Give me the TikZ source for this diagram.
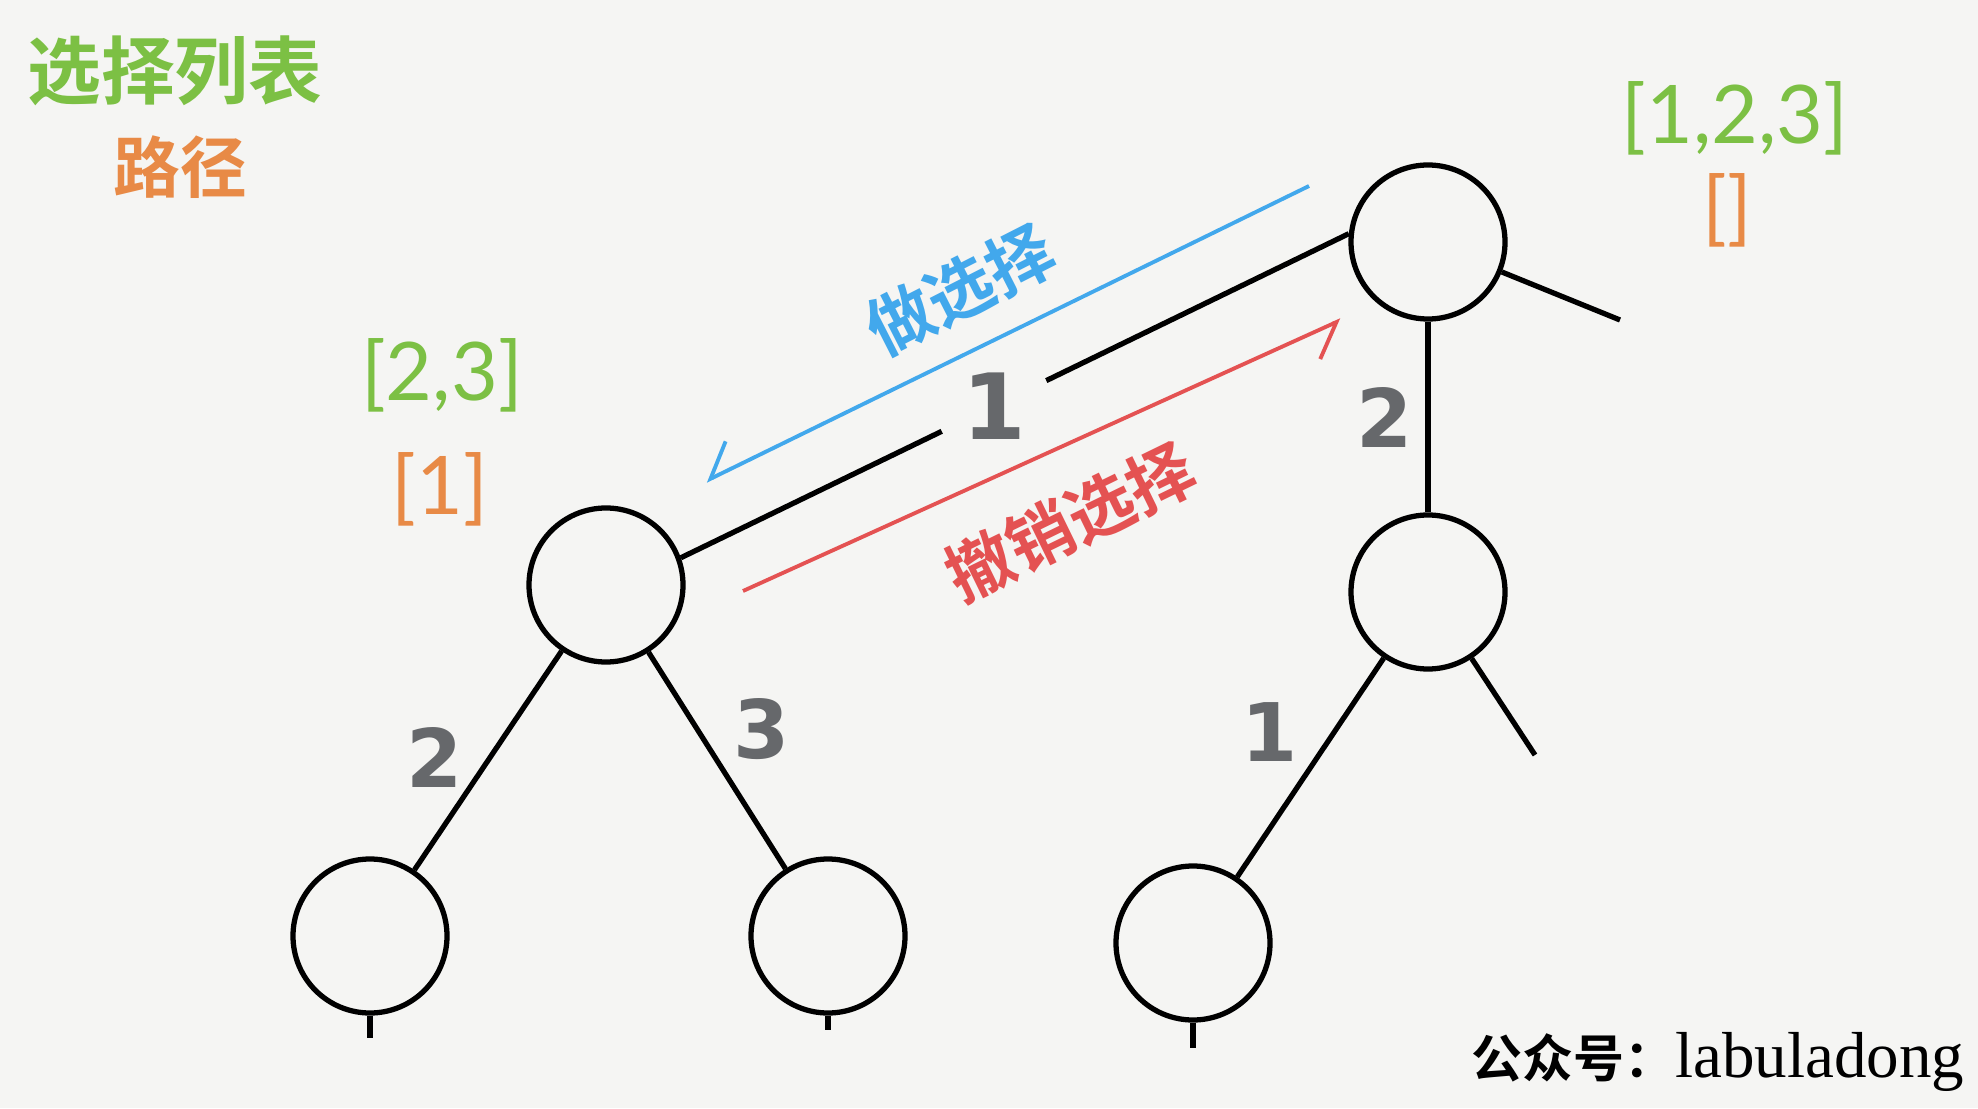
\documentclass[tikz,border=0pt]{standalone}
\usepackage{fontspec}
\usepackage{tikz}
\usetikzlibrary{arrows.meta}

\newfontfamily\cjk{Noto Sans CJK SC}[BoldFont={* Bold}]
\newfontfamily\thinfont{Lato}
\newfontfamily\numfont{DejaVu Sans}
\newfontfamily\enfont{Liberation Serif}

\definecolor{paper}{RGB}{245,245,243}
\definecolor{listgreen}{RGB}{124,192,68}
\definecolor{pathorange}{RGB}{232,138,70}
\definecolor{doblue}{RGB}{66,168,236}
\definecolor{undored}{RGB}{228,82,82}
\definecolor{numgray}{RGB}{102,104,107}

\begin{document}
\begin{tikzpicture}[
    vtx/.style={circle, draw, line width=1.5pt, minimum size=1.54cm, inner sep=0pt},
    edge/.style={line width=1.5pt},
    num/.style={text=numgray, inner sep=0pt, font=\fontsize{23}{23}\selectfont\numfont\bfseries},
    choice/.style={text=listgreen, font=\fontsize{23}{23}\selectfont\thinfont},
    track/.style={text=pathorange, font=\fontsize{23}{23}\selectfont\thinfont},
    move/.style={line width=1.1pt, -{Straight Barb[right, length=0.3cm, width=0.54cm]}}
  ]
  \fill[paper] (0,0) rectangle (19.78,11.08);
  \useasboundingbox (0,0) rectangle (19.78,11.08);

  % legend
  \node[text=listgreen, font=\fontsize{21}{21}\selectfont\cjk\bfseries] (legA) at (1.75, 10.37) {选择列表};
  \node[text=pathorange, font=\fontsize{19}{19}\selectfont\cjk\bfseries] (legB) at (1.80, 9.41) {路径};

  % tree
  \node[vtx] (root) at (14.28, 8.66) {};
  \node[vtx] (midL) at (6.06, 5.23) {};
  \node[vtx] (midR) at (14.28, 5.16) {};
  \node[vtx] (botL) at (3.70, 1.72) {};
  \node[vtx] (botM) at (8.28, 1.72) {};
  \node[vtx] (botR) at (11.93, 1.65) {};

  \coordinate (rootEnd) at (16.20, 7.88);
  \coordinate (midREnd) at (15.35, 3.53);
  \coordinate (botLEnd) at (3.70, 0.70);
  \coordinate (botMEnd) at (8.28, 0.78);
  \coordinate (botREnd) at (11.93, 0.60);

  \node[num, font=\fontsize{26}{26}\selectfont\numfont\bfseries] (pick1) at (9.94, 7.02) {1};
  \draw[edge, shorten >=0.22cm] (midL.20) -- (pick1);
  \draw[edge, shorten <=0.22cm] (pick1) -- (root.174);
  \draw[edge] (root) -- (midR);
  \draw[edge] (root) -- (rootEnd);
  \draw[edge] (midL) -- (botL);
  \draw[edge] (midL) -- (botM);
  \draw[edge] (midR) -- (botR);
  \draw[edge] (midR) -- (midREnd);
  \draw[edge] (botL) -- (botLEnd);
  \draw[edge] (botM) -- (botMEnd);
  \draw[edge] (botR) -- (botREnd);

  \node[num] (pick2a) at (4.35, 3.51) {2};
  \node[num] (pick3) at (7.62, 3.79) {3};
  \node[num] (pick2b) at (13.85, 6.90) {2};
  \node[num] (pick1b) at (12.70, 3.76) {1};

  % lists
  \node[choice] (c0) at (17.35, 9.90) {[1,2,3]};
  \node[track] (t0) at (17.27, 8.98) {[]};
  \node[choice] (c1) at (4.42, 7.33) {[2,3]};
  \node[track] (t1) at (4.40, 6.19) {[1]};

  % do / undo
  \coordinate (doS) at (13.09, 9.22);
  \coordinate (doE) at (7.06, 6.27);
  \coordinate (undoS) at (7.43, 5.17);
  \coordinate (undoE) at (13.41, 7.88);
  \draw[move, doblue] (doS) -- (doE);
  \draw[move, undored] (undoS) -- (undoE);
  \node[text=doblue, rotate=27, font=\fontsize{19}{19}\selectfont\cjk\bfseries] (doTxt) at (9.60, 8.18) {做选择};
  \node[text=undored, rotate=26, font=\fontsize{19}{19}\selectfont\cjk\bfseries] (undoTxt) at (10.70, 5.86) {撤销选择};

  \node[anchor=center] (sign) at (17.18, 0.46) {{\fontsize{14.5}{15}\selectfont\cjk\bfseries 公众号：}{\fontsize{18.5}{19}\selectfont\enfont labuladong}};
\end{tikzpicture}
\end{document}
